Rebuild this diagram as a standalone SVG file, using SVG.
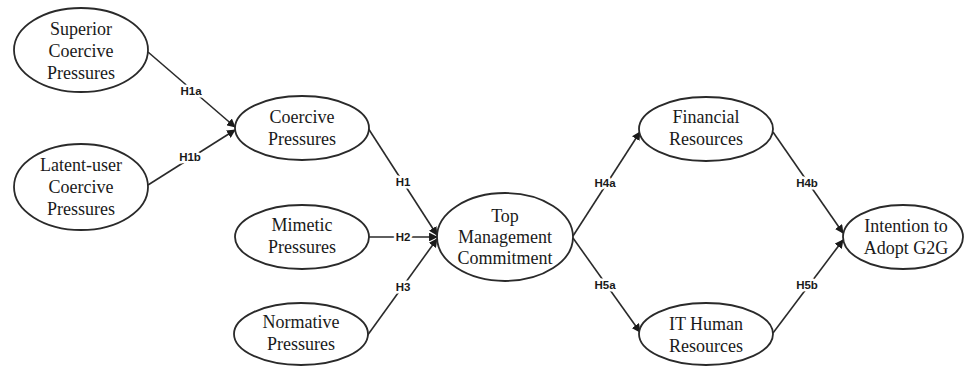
<svg xmlns="http://www.w3.org/2000/svg" width="964" height="366" viewBox="0 0 964 366">
<style>
.node ellipse{fill:#fff;stroke:#2a2a2a;stroke-width:1.8}
.node text{font-family:"Liberation Serif","Times New Roman",serif;font-size:18px;fill:#1a1a1a;text-anchor:middle}
.edges line{stroke:#2a2a2a;stroke-width:1.6;marker-end:url(#ah)}
.lbl{font-family:"Liberation Sans",Arial,sans-serif;font-size:11.5px;font-weight:bold;fill:#1a1a1a;text-anchor:middle;stroke:#fff;stroke-width:5;paint-order:stroke;stroke-linejoin:round}
</style>
<defs>
<marker id="ah" viewBox="0 0 10 10" refX="9" refY="5" markerWidth="5.5" markerHeight="5.5" orient="auto" markerUnits="strokeWidth">
<path d="M0,0 L10,5 L0,10 z" fill="#1a1a1a"/>
</marker>
</defs>
<rect width="964" height="366" fill="#fff"/>
<g class="edges">
<line x1="148" y1="52" x2="235" y2="127"/>
<line x1="148" y1="185" x2="235" y2="130"/>
<line x1="368" y1="128" x2="437" y2="235"/>
<line x1="369" y1="237" x2="437" y2="237"/>
<line x1="367" y1="336" x2="437" y2="239"/>
<line x1="573" y1="236" x2="640" y2="132"/>
<line x1="573" y1="238" x2="640" y2="332"/>
<line x1="773" y1="132" x2="843" y2="233"/>
<line x1="773" y1="333" x2="843" y2="240"/>
<text class="lbl" x="191" y="95">H1a</text>
<text class="lbl" x="190" y="161">H1b</text>
<text class="lbl" x="403" y="186">H1</text>
<text class="lbl" x="403" y="241">H2</text>
<text class="lbl" x="403" y="291">H3</text>
<text class="lbl" x="605" y="187">H4a</text>
<text class="lbl" x="605" y="289">H5a</text>
<text class="lbl" x="807" y="187">H4b</text>
<text class="lbl" x="807" y="289">H5b</text>
</g>
<g id="superior" class="node">
<ellipse cx="81" cy="50" rx="67" ry="42"/>
<text x="81" y="35">Superior</text>
<text x="81" y="57">Coercive</text>
<text x="81" y="79">Pressures</text>
</g>
<g id="latent" class="node">
<ellipse cx="81" cy="187" rx="67" ry="43"/>
<text x="81" y="171">Latent-user</text>
<text x="81" y="193">Coercive</text>
<text x="81" y="215">Pressures</text>
</g>
<g id="coercive" class="node">
<ellipse cx="302" cy="128" rx="67" ry="32"/>
<text x="302" y="123">Coercive</text>
<text x="302" y="145">Pressures</text>
</g>
<g id="mimetic" class="node">
<ellipse cx="302" cy="237" rx="67" ry="32"/>
<text x="302" y="231">Mimetic</text>
<text x="302" y="253">Pressures</text>
</g>
<g id="normative" class="node">
<ellipse cx="301" cy="334" rx="67" ry="31"/>
<text x="301" y="328">Normative</text>
<text x="301" y="350">Pressures</text>
</g>
<g id="tmc" class="node">
<ellipse cx="505" cy="237" rx="68" ry="44"/>
<text x="505" y="222">Top</text>
<text x="505" y="243">Management</text>
<text x="505" y="264">Commitment</text>
</g>
<g id="financial" class="node">
<ellipse cx="706" cy="129" rx="67" ry="32"/>
<text x="706" y="123">Financial</text>
<text x="706" y="145">Resources</text>
</g>
<g id="ithuman" class="node">
<ellipse cx="706" cy="334" rx="67" ry="31"/>
<text x="706" y="330">IT Human</text>
<text x="706" y="352">Resources</text>
</g>
<g id="intention" class="node">
<ellipse cx="903" cy="237" rx="60" ry="32"/>
<text x="906" y="232">Intention to</text>
<text x="906" y="254">Adopt G2G</text>
</g>
</svg>
